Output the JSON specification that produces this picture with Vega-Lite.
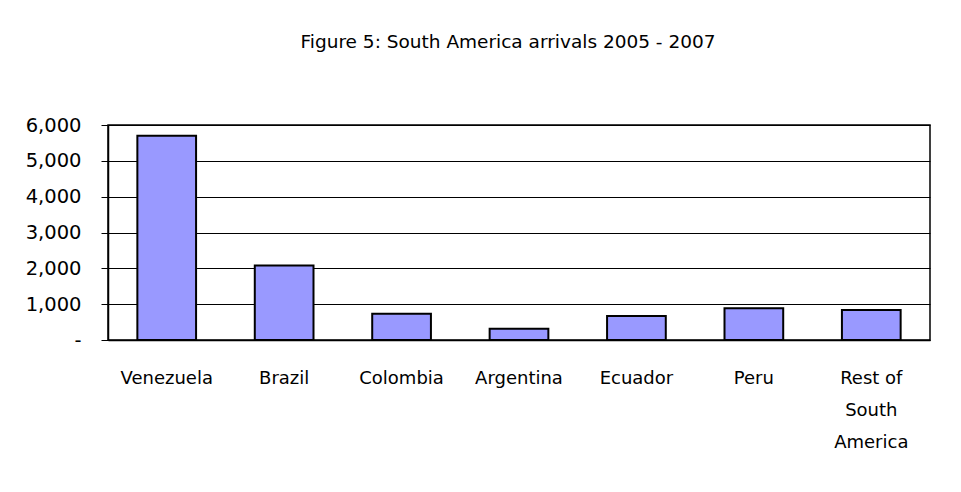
{
  "$schema": "https://vega.github.io/schema/vega-lite/v6.json",
  "autosize": {"type": "none"},
  "width": 822,
  "height": 215,
  "padding": {"left": 108, "top": 125, "right": 31, "bottom": 152},
  "background": "white",
  "title": {
    "text": "Figure 5: South America arrivals 2005 - 2007",
    "fontSize": 18.5,
    "font": "DejaVu Sans",
    "fontWeight": "normal",
    "color": "#000000",
    "anchor": "middle",
    "dx": -11,
    "offset": 64
  },
  "data": {
    "values": [
      {"country": "Venezuela", "arrivals": 5700},
      {"country": "Brazil", "arrivals": 2080},
      {"country": "Colombia", "arrivals": 730},
      {"country": "Argentina", "arrivals": 315},
      {"country": "Ecuador", "arrivals": 670},
      {"country": "Peru", "arrivals": 885},
      {"country": "Rest of South America", "arrivals": 840}
    ]
  },
  "mark": {"type": "bar", "color": "#9999FF", "stroke": "#000000", "strokeWidth": 2},
  "encoding": {
    "x": {
      "field": "country",
      "type": "nominal",
      "sort": null,
      "title": null,
      "scale": {"paddingInner": 0.5, "paddingOuter": 0.25},
      "axis": {
        "labelAngle": 0,
        "labelFont": "DejaVu Sans",
        "labelFontSize": 18,
        "labelColor": "#000000",
        "labelPadding": 38,
        "labelLineHeight": 32,
        "labelBaseline": "middle",
        "ticks": false,
        "domainColor": "#000000",
        "domainWidth": 1.5,
        "labelExpr": "datum.value == 'Rest of South America' ? ['Rest of', 'South', 'America'] : datum.value"
      }
    },
    "y": {
      "field": "arrivals",
      "type": "quantitative",
      "title": null,
      "scale": {"domain": [0, 6000], "nice": false},
      "axis": {
        "values": [0, 1000, 2000, 3000, 4000, 5000, 6000],
        "labelFont": "DejaVu Sans",
        "labelFontSize": 19.5,
        "labelColor": "#000000",
        "labelPadding": 20,
        "tickSize": 7,
        "tickColor": "#000000",
        "domainColor": "#000000",
        "domainWidth": 1.5,
        "gridColor": "#000000",
        "gridWidth": 1,
        "gridOpacity": 1,
        "labelExpr": "datum.value == 0 ? '-' : format(datum.value, ',')"
      }
    }
  },
  "config": {
    "view": {"stroke": "#000000", "strokeWidth": 1.5}
  }
}
